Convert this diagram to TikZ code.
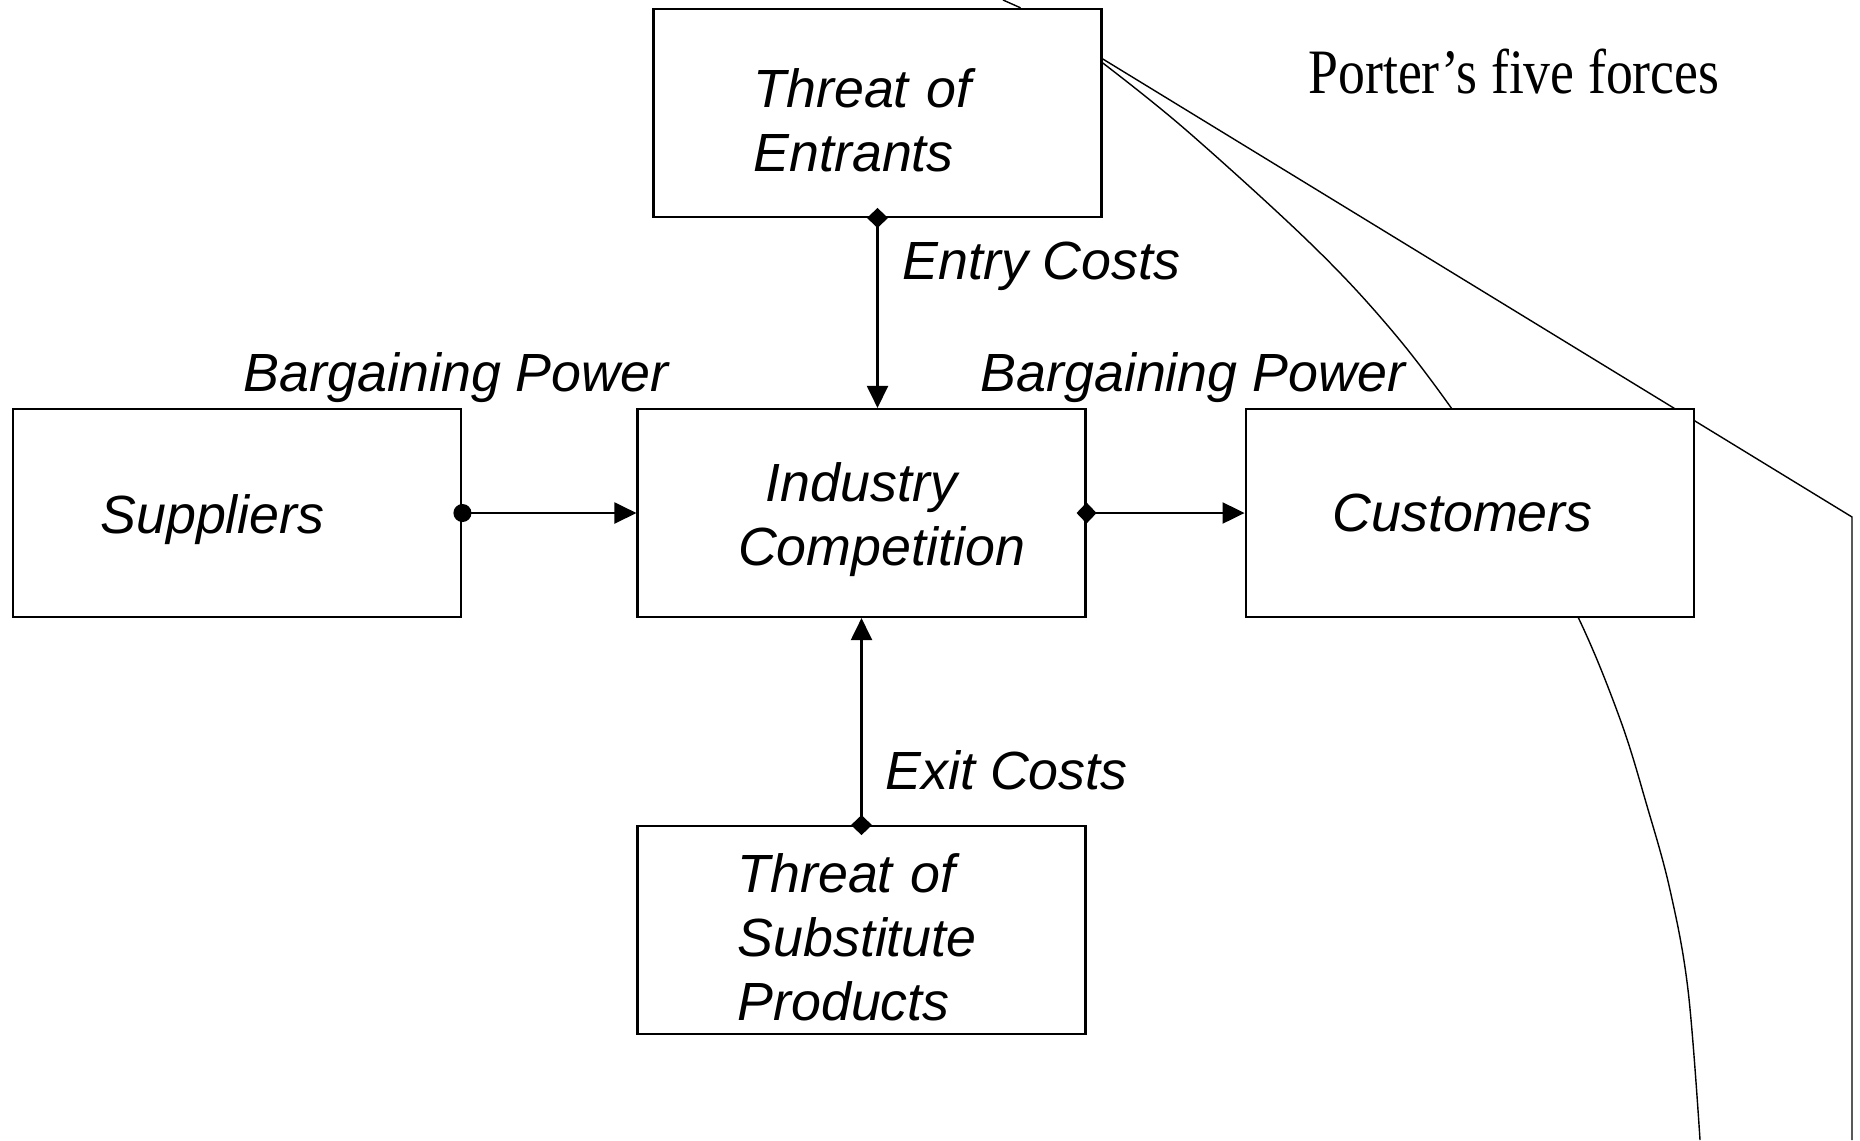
\documentclass[tikz,border=0pt]{standalone}
\usepackage{fontspec}
\setmainfont{Liberation Sans}
\newfontfamily\serifrm{Liberation Serif}
\usetikzlibrary{positioning, arrows.meta, backgrounds}

\begin{document}
\begin{tikzpicture}[
    line width=0.6pt,
    font=\fontsize{15.3}{18.2}\selectfont\itshape,
    >={Triangle[width=0.21cm, length=0.22cm]},
    box/.style = {draw, fill=white, minimum width=4.48cm, minimum height=2.08cm,
        text width=2.48cm, inner xsep=1cm, inner ysep=0pt, align=left},
    pushdown/.style = {execute at begin node={\rule{0pt}{0.53cm}}},
    widetext/.style = {text width=2.74cm, inner xsep=0.87cm},
    lbl/.style = {inner sep=0pt},
    every edge/.style = {draw, ->},
    diastart/.style = {{Diamond[width=0.21cm, length=0.2cm]}->, shorten <=-0.1cm},
    dotstart/.style = {{Circle[length=0.18cm]}->, shorten <=-0.09cm},
    stray/.style = {line width=0.5pt}
]
    \useasboundingbox (0,0) rectangle (18.6,-11.4);

    \node (ind) [box, pushdown, text width=3.3cm, inner xsep=0.59cm, align=center] at (8.615,-5.13) {Industry\\\hspace*{0.4cm}Competition};
    \node (sup) [box, pushdown, widetext, left=1.74cm of ind] {Suppliers};
    \node (cust) [box, widetext, right=1.58cm of ind] {Customers};
    \node (ent) [box, pushdown, above=1.9cm of ind, xshift=0.16cm] {Threat of\\Entrants};
    \node (sub) [box, pushdown, below=2.07cm of ind] {Threat of\\Substitute\\Products};

    \draw (ent.south) edge[diastart] (ent.south |- ind.north)
        (sup.east) edge[dotstart] (ind.west)
        (ind.east) edge[diastart] (cust.west)
        (sub.north) edge[diastart] (ind.south);

    \node (entry) [lbl, anchor=base west] at ([xshift=0.24cm, yshift=-0.62cm]ent.south) {Entry Costs};
    \node (bpsup) [lbl, anchor=base east] at ([xshift=0.33cm, yshift=0.16cm]ind.north west) {Bargaining Power};
    \node (bpcust) [lbl, anchor=base west] at ([xshift=-1.07cm, yshift=0.16cm]ind.north east) {Bargaining Power};
    \node (exit) [lbl, anchor=base west] at ([xshift=0.23cm, yshift=0.36cm]sub.north) {Exit Costs};
    \node (title) [lbl, anchor=base, font=\serifrm\fontsize{18}{20}\selectfont] at (15.14,-0.93) {\scalebox{0.85}[1]{Porter’s five forces}};

    % lines running behind the boxes
    \begin{scope}[on background layer, stray]
        \coordinate (bend) at (18.52,-5.17);
        \draw (10.03,0) -- ([xshift=-0.82cm]ent.north east);
        \draw ([yshift=-0.51cm]ent.north east) -- (bend) -- (bend |- 0,-11.4);
        \draw plot[smooth, tension=0.6] coordinates {([yshift=-0.55cm]ent.north east) (11.86,-1.30) (13.10,-2.43)
            (13.88,-3.26) (14.52,-4.09) (15.20,-5.10) (15.78,-6.17) (16.20,-7.19) (16.47,-8.06)
            (16.70,-8.90) (16.88,-9.90) (17.00,-11.40)};
    \end{scope}
\end{tikzpicture}
\end{document}
